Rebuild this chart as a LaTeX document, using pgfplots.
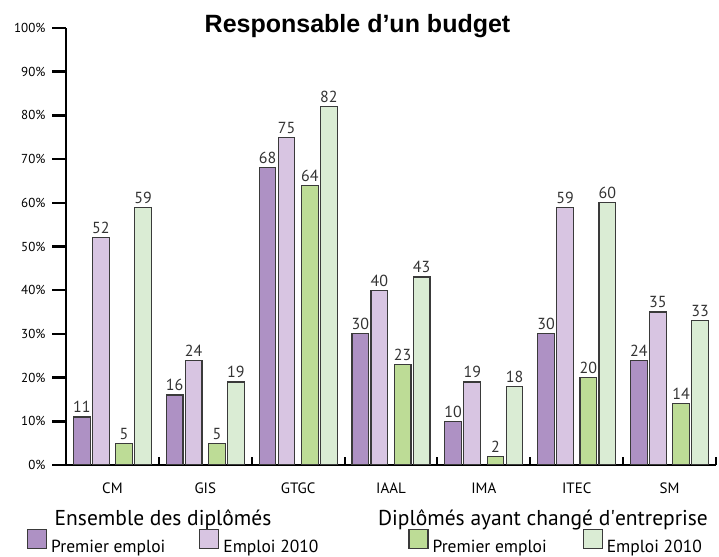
\documentclass[border=0pt]{standalone}
\usepackage{pgfplots}
\pgfplotsset{compat=1.18}
\usepackage{fontspec}
\setmainfont{PT Sans}
\newfontfamily\titlefont{Liberation Sans}
\definecolor{cA}{HTML}{AE91C4}
\definecolor{cB}{HTML}{D8C5E2}
\definecolor{cC}{HTML}{BDDC96}
\definecolor{cD}{HTML}{DAECD4}
\definecolor{edge}{HTML}{3A3A3A}
\begin{document}
\begin{tikzpicture}[x=1pt,y=1pt]
\useasboundingbox (0,0) rectangle (719,556);
\begin{axis}[
  at={(66pt,91pt)}, anchor=south west,
  scale only axis, width=650pt, height=437pt,
  xmin=0, xmax=7, ymin=0, ymax=100,
  enlargelimits=false,
  axis x line=bottom, axis y line=left,
  axis line style={-, line width=2.5pt, black},
  tick align=outside, major tick length=14pt,
  ytick={0,10,...,100},
  yticklabels={0\%,10\%,20\%,30\%,40\%,50\%,60\%,70\%,80\%,90\%,100\%},
  yticklabel style={font=\fontsize{13}{15}\selectfont, xshift=-3pt},
  ytick style={line width=2.5pt, black},
  xtick={0.5,1.5,2.5,3.5,4.5,5.5,6.5},
  xticklabels={CM,GIS,GTGC,IAAL,IMA,ITEC,SM},
  xticklabel style={font=\fontsize{15}{17}\selectfont, anchor=base, yshift=-14pt},
  major x tick style={draw=none},
  minor xtick={0,1,2,3,4,5,6,7},
  minor tick length=8pt,
  minor x tick style={yshift=8pt, line width=2pt, black},
  ybar, bar width=0.18,
  nodes near coords,
  every node near coord/.append style={font=\fontsize{16}{18}\selectfont, color=black!80},
  /pgf/number format/assume math mode=true,
  title={\titlefont\bfseries Responsable d’un budget},
  title style={at={(axis description cs:0.4485,0.977)}, anchor=base, font=\fontsize{25}{28}\selectfont},
  legend columns=4,
  legend cell align=left,
  legend style={draw=none, fill=none, inner sep=0pt, outer sep=0pt,
    at={(axis description cs:-0.06,-0.103)}, anchor=north west,
    font=\fontsize{17.5}{19}\selectfont,
    nodes={inner sep=0pt},
    /tikz/every odd column/.append style={column sep=4pt},
    /tikz/row sep=2pt},
  legend image code/.code={\draw[#1, line width=1.2pt] (0pt,-2pt) rectangle (19pt,17pt);},
]
\addlegendimage{empty legend}
\addlegendentry{\makebox[0pt][l]{\hspace*{3pt}\fontsize{21.5}{23}\selectfont Ensemble des diplômés}}
\addlegendimage{empty legend}
\addlegendentry{}
\addlegendimage{empty legend}
\addlegendentry{\makebox[0pt][l]{\hspace*{-55pt}\fontsize{21.5}{23}\selectfont Diplômés ayant changé d\textquotesingle entreprise}}
\addlegendimage{empty legend}
\addlegendentry{}

\addplot[fill=cA, draw=edge, line width=1.2pt, bar shift=-0.33]
  coordinates {(0.5,11) (1.5,16) (2.5,68) (3.5,30) (4.5,10) (5.5,30) (6.5,24)};
\addlegendentry{\makebox[148pt][l]{Premier emploi}}
\addplot[fill=cB, draw=edge, line width=1.2pt, bar shift=-0.125]
  coordinates {(0.5,52) (1.5,24) (2.5,75) (3.5,40) (4.5,19) (5.5,59) (6.5,35)};
\addlegendentry{\makebox[185pt][l]{Emploi 2010}}
\addplot[fill=cC, draw=edge, line width=1.2pt, bar shift=0.125]
  coordinates {(0.5,5) (1.5,5) (2.5,64) (3.5,23) (4.5,2) (5.5,20) (6.5,14)};
\addlegendentry{\makebox[150pt][l]{Premier emploi}}
\addplot[fill=cD, draw=edge, line width=1.2pt, bar shift=0.33]
  coordinates {(0.5,59) (1.5,19) (2.5,82) (3.5,43) (4.5,18) (5.5,60) (6.5,33)};
\addlegendentry{\makebox[110pt][l]{Emploi 2010}}
\end{axis}
\end{tikzpicture}
\end{document}
